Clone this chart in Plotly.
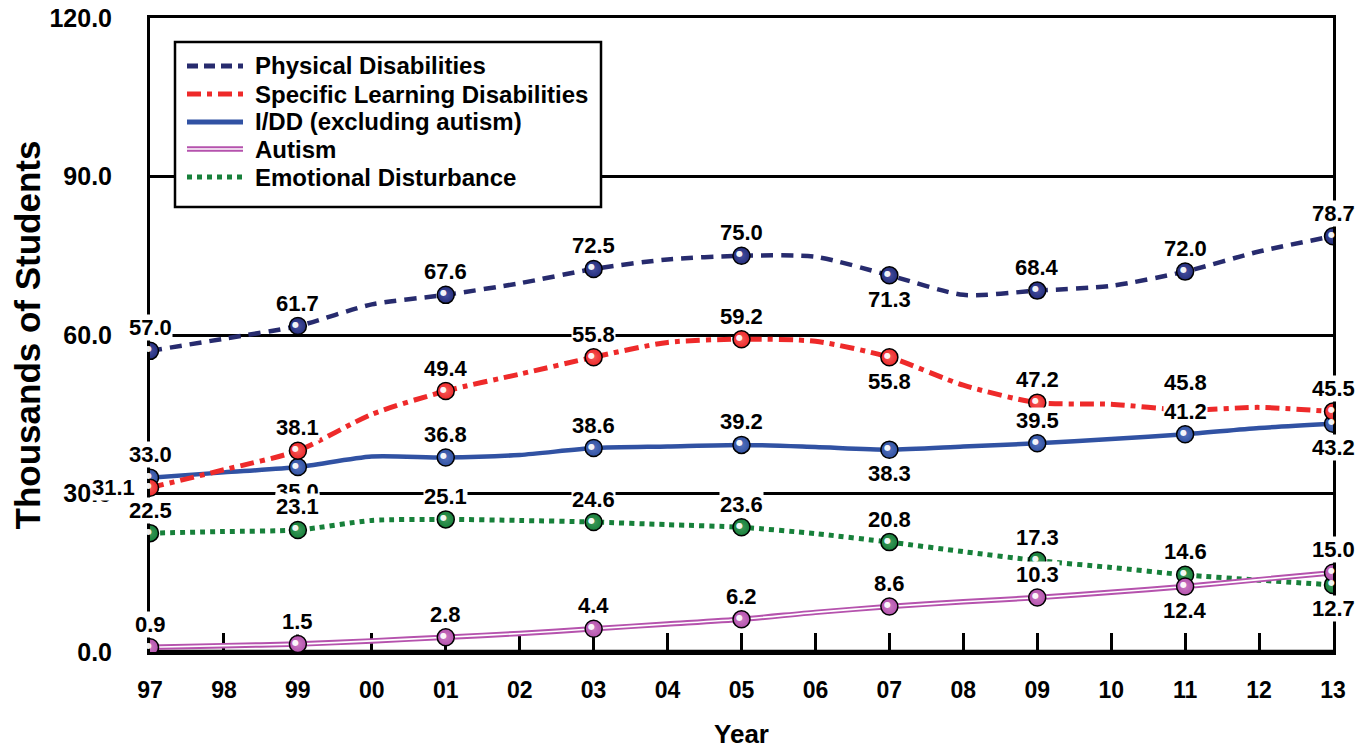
import plotly.graph_objects as go

years = ["97", "98", "99", "00", "01", "02", "03", "04", "05", "06",
         "07", "08", "09", "10", "11", "12", "13"]

physical = [57.0, 59.3, 61.7, 65.8, 67.6, 69.8, 72.5, 74.3, 75.0, 74.8,
            71.3, 67.6, 68.4, 69.3, 72.0, 75.8, 78.7]
sld = [31.1, 34.5, 38.1, 45.0, 49.4, 52.6, 55.8, 58.6, 59.2, 58.8,
       55.8, 50.5, 47.2, 46.9, 45.8, 46.3, 45.5]
idd = [33.0, 34.0, 35.0, 37.0, 36.8, 37.3, 38.6, 38.9, 39.2, 38.8,
       38.3, 38.9, 39.5, 40.3, 41.2, 42.4, 43.2]
autism = [0.9, 1.2, 1.5, 2.1, 2.8, 3.5, 4.4, 5.3, 6.2, 7.5,
          8.6, 9.5, 10.3, 11.3, 12.4, 13.7, 15.0]
emotional = [22.5, 22.8, 23.1, 24.9, 25.1, 24.9, 24.6, 24.1, 23.6, 22.4,
             20.8, 19.0, 17.3, 16.0, 14.6, 13.6, 12.7]

series_names = ["Physical Disabilities", "Specific Learning Disabilities",
                "I/DD (excluding autism)", "Autism", "Emotional Disturbance"]
y_ticks = [0, 30, 60, 90, 120]
y_tick_text = ["0.0", "30.0", "60.0", "90.0", "120.0"]

# label placement (style): a=above, A=higher above, b=below, l=left
pos_physical = ["a", "a", "a", "a", "a", "b", "a", "a", "a"]
pos_sld = ["l", "a", "a", "a", "a", "b", "a", "A", "a"]
pos_idd = ["a", "b", "a", "a", "a", "b", "a", "a", "b"]
pos_autism = ["a", "a", "a", "a", "a", "a", "a", "b", "a"]
pos_emotional = ["a", "a", "a", "a", "a", "a", "a", "a", "b"]

C_PHYS = "#272B6E"
C_PHYS_BALL = "#252E7C"
C_SLD = "#EE2A2A"
C_IDD = "#3152A3"
C_AUT = "#B552AD"
C_ED = "#17803A"

FONT = "Liberation Sans, Arial, sans-serif"

fig = go.Figure()

xi = list(range(len(years)))
marker_idx = list(range(0, len(years), 2))


def add_line(vals, color, width, dash):
    fig.add_trace(go.Scatter(
        x=xi, y=vals, mode="lines",
        line=dict(color=color, width=width, dash=dash, shape="spline", smoothing=0.7),
        hoverinfo="skip", showlegend=False))


def add_markers(vals, color, center):
    fig.add_trace(go.Scatter(
        x=marker_idx, y=[vals[i] for i in marker_idx], mode="markers",
        marker=dict(size=17, color=color,
                    gradient=dict(type="radial", color=center),
                    line=dict(color="black", width=1.5)),
        hoverinfo="skip", showlegend=False))


add_line(emotional, C_ED, 5, "5px,5px")
add_line(autism, C_AUT, 5.5, "solid")
add_line(autism, "white", 1.6, "solid")
add_line(idd, C_IDD, 4.5, "solid")
add_line(sld, C_SLD, 5, "14px,6px,5px,6px")
add_line(physical, C_PHYS, 4.5, "12px,8px")

add_markers(emotional, C_ED, "#3f9a5c")
add_markers(autism, C_AUT, "#c97ac3")
add_markers(idd, C_IDD, "#5572bd")
add_markers(sld, C_SLD, "#f45a5a")
add_markers(physical, C_PHYS_BALL, "#4650a0")

annotations = []

# specular highlights on the balls
for vals in (emotional, autism, idd, sld, physical):
    for i in marker_idx:
        annotations.append(dict(
            x=i, y=vals[i], xref="x", yref="y", text="●", showarrow=False,
            xshift=-2, yshift=2,
            font=dict(family="DejaVu Sans", size=8, color="rgba(255,255,255,0.95)")))


def add_labels(vals, positions):
    for k, i in enumerate(marker_idx):
        p = positions[k]
        xs, ys = 0, 0
        if p == "a":
            ys = 23
        elif p == "A":
            ys = 28
        elif p == "b":
            ys = -24
        else:
            xs = -37
        annotations.append(dict(
            x=i, y=vals[i], xref="x", yref="y",
            text=f"<b>{vals[i]:.1f}</b>", showarrow=False,
            xshift=xs, yshift=ys, bgcolor="white", borderpad=0,
            font=dict(family=FONT, size=22, color="black")))


add_labels(physical, pos_physical)
add_labels(idd, pos_idd)
add_labels(sld, pos_sld)
add_labels(autism, pos_autism)
add_labels(emotional, pos_emotional)

# ---- manual legend ----
W, H = 1183.0, 634.0


def px(xp):
    return (xp - 150) / W


def py(yp):
    return (652 - yp) / H


shapes = []
shapes.append(dict(type="rect", xref="paper", yref="paper",
                   x0=px(175), x1=px(601), y0=py(207), y1=py(42),
                   line=dict(color="black", width=2.5), fillcolor="white",
                   layer="above"))
legend_rows = [66, 94, 122, 149, 177]
legend_styles = [
    [(C_PHYS, 5, "11px,6px")],
    [(C_SLD, 5, "14px,6px,5px,6px")],
    [(C_IDD, 5, "solid")],
    [(C_AUT, 5.5, "solid"), ("white", 1.6, "solid")],
    [(C_ED, 5, "5px,5px")],
]
for name, yrow, styles in zip(series_names, legend_rows, legend_styles):
    for color, w, dash in styles:
        shapes.append(dict(type="line", xref="paper", yref="paper",
                           x0=px(187), x1=px(243), y0=py(yrow), y1=py(yrow),
                           line=dict(color=color, width=w, dash=dash), layer="above"))
    annotations.append(dict(x=px(253), y=py(yrow), xref="paper", yref="paper",
                            text=f"<b>{name}</b>", showarrow=False,
                            xanchor="left", yanchor="middle",
                            font=dict(family=FONT, size=24, color="black")))

# thick bottom axis and far right border
shapes.append(dict(type="line", xref="paper", yref="paper",
                   x0=0, x1=1, y0=0, y1=0, line=dict(color="black", width=4.5),
                   layer="below"))
shapes.append(dict(type="line", xref="paper", yref="paper",
                   x0=px(1368), x1=px(1368), y0=py(742), y1=py(8),
                   line=dict(color="black", width=2)))

fig.update_layout(
    width=1364, height=742,
    margin=dict(l=142, r=39, t=10, b=98),
    paper_bgcolor="white", plot_bgcolor="white",
    showlegend=False,
    font=dict(family=FONT, color="black"),
    annotations=annotations,
    shapes=shapes,
    xaxis=dict(range=[0, 16], tickvals=xi, ticktext=[f"<b>{y}</b>" for y in years],
               showgrid=False, zeroline=False, automargin=False,
               showline=True, mirror=True, linecolor="black", linewidth=3,
               ticks="inside", ticklen=19, tickwidth=2.5, tickcolor="black",
               tickfont=dict(family=FONT, size=23, color="black"),
               ticklabelstandoff=15, layer="below traces",
               title=dict(text="<b>Year</b>", font=dict(family=FONT, size=26),
                          standoff=24)),
    yaxis=dict(range=[0, 120], tickvals=y_ticks,
               ticktext=[f"<b>{t}</b>" for t in y_tick_text],
               showgrid=True, gridcolor="black", gridwidth=3, zeroline=False,
               automargin=False, ticklabeloverflow="allow",
               showline=True, mirror=True, linecolor="black", linewidth=3,
               ticks="", tickfont=dict(family=FONT, size=25, color="black"),
               ticklabelstandoff=30, layer="below traces",
               title=dict(text="<b>Thousands of Students</b>",
                          font=dict(family=FONT, size=35), standoff=18)),
)

fig.write_html("out.html")
